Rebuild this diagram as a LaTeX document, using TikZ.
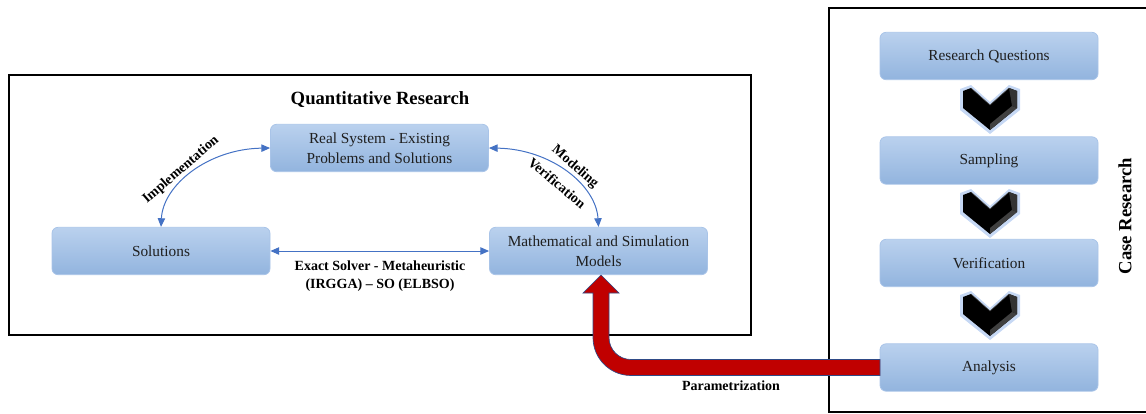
\documentclass[tikz,border=0pt]{standalone}
\usepackage{fontspec}
\setmainfont{Liberation Serif}
\usetikzlibrary{arrows.meta}
\definecolor{boxtop}{HTML}{BAD1EE}
\definecolor{boxbot}{HTML}{92B4DE}
\definecolor{boxedge}{HTML}{A9C4E8}
\definecolor{linkblue}{HTML}{4472C4}
\definecolor{paramred}{HTML}{C00000}
\definecolor{paramedge}{HTML}{2F4A86}
\definecolor{glow}{HTML}{5B8FE0}
\begin{document}
\begin{tikzpicture}[x=0.75pt,y=-0.75pt,
  stage/.style={rounded corners=4.5pt, top color=boxtop, bottom color=boxbot,
    draw=boxedge, line width=0.6pt, minimum width=163.5pt, minimum height=35.5pt,
    align=center, text=black!88, font=\fontsize{11.5}{15}\selectfont},
  lbl/.style={font=\bfseries\fontsize{10.5}{14}\selectfont, align=center},
  heading/.style={font=\bfseries\fontsize{14}{16}\selectfont},
  link/.style={draw=linkblue, line width=0.75pt,
    {Triangle[length=6.5pt,width=5.5pt]}-{Triangle[length=6.5pt,width=5.5pt]}},
  frame/.style={draw=black, line width=1.6pt},
  chevron/.pic={
    \fill[glow, opacity=0.35] (-30,1) -- (-19,-3) -- (0,14) -- (19,-3) -- (30,1)
      -- (30,22) -- (0,46) -- (-30,22) -- cycle;
    \fill[black] (-27,3) -- (-19,0) -- (0,17) -- (19,0) -- (27,3) -- (27,20)
      -- (0,42) -- (-27,20) -- cycle;
    \fill[black!80] (19,0) -- (27,3) -- (27,20) -- (22,18) -- cycle;
    \fill[black!75] (0,42) -- (27,20) -- (22,18) -- (0,36) -- cycle;
    \draw[black!70, line width=0.4pt] (-19,0) -- (0,17) -- (19,0);
  }]
\useasboundingbox (0,0) rectangle (1146,414);

% frames
\draw[frame] (9,75) rectangle (751,335);
\draw[draw=black, line width=1.2pt] (829,8) rectangle (1152,412);

% quantitative part
\node[heading] (qtitle) at (380,100) {Quantitative Research};
\node[stage] (rs) at (379.5,148) {Real System - Existing\\Problems and Solutions};
\node[stage] (sol) at (161,251) {Solutions};
\node[stage] (math) at (598.5,251) {Mathematical and Simulation\\Models};

\draw[link] (sol.north) .. controls (163,185) and (208,149) .. (rs.west);
\draw[link] (rs.east) .. controls (551,149) and (596,185) .. (math.north);
\draw[link] (sol.east) -- (math.west);

\node[lbl, rotate=41] (limpl) at (181,170) {Implementation};
\node[lbl, rotate=-41] (lmod) at (575,167) {Modeling};
\node[lbl, rotate=-40] (lver) at (557,183) {Verification};
\node[lbl] (lsolver) at (380,276) {Exact Solver - Metaheuristic\\(IRGGA) -- SO (ELBSO)};

% case research part
\node[stage] (rq) at (989,56) {Research Questions};
\node[stage] (samp) at (989,160.5) {Sampling};
\node[stage] (ver) at (989,263) {Verification};
\node[stage] (ana) at (989,367.5) {Analysis};
\pic at (990,88) {chevron};
\pic at (990,192) {chevron};
\pic at (990,294) {chevron};
\node[heading, rotate=90] (ctitle) at (1125,216) {Case Research};

% parametrization arrow
\filldraw[fill=paramred, draw=paramedge, line width=0.5pt]
  (880,359.5) -- (631,359.5) .. controls (618.8,359.5) and (609,349.7) .. (609,337.5)
  -- (609,293) -- (619,293) -- (601,275) -- (583,293) -- (593,293) -- (593,337.5)
  .. controls (593,358.5) and (610,375.5) .. (631,375.5) -- (880,375.5) -- cycle;
\node[lbl] (lparam) at (731,386) {Parametrization};
\end{tikzpicture}
\end{document}
